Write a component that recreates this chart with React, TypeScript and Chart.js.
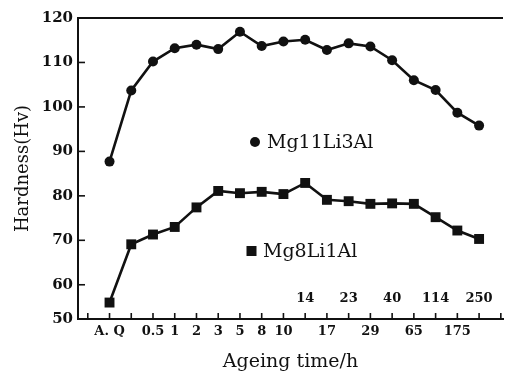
import React, { useEffect, useRef } from "react";
import { Chart, registerables } from "chart.js";

Chart.register(...registerables);

// x categories (ageing time), one tick each; "" = tick without label
const timeLabels = ["", "A. Q", "", "0.5", "1", "2", "3", "5", "8", "10", "14", "17", "23", "29", "40", "65", "114", "175", "250", ""];
// labels that the original prints above the axis line (inside the plot)
const upperLabels = ["14", "23", "40", "114", "250"];

// hardness series (Hv), one value per ageing step, starting at "A. Q"
const mg11Li3Al = [87.7, 103.7, 110.2, 113.2, 114.0, 113.0, 116.9, 113.7, 114.7, 115.1, 112.8, 114.3, 113.6, 110.5, 106.0, 103.8, 98.7, 95.8];
const mg8Li1Al = [56.0, 69.1, 71.3, 73.0, 77.4, 81.1, 80.6, 80.9, 80.4, 82.9, 79.1, 78.8, 78.2, 78.3, 78.2, 75.2, 72.2, 70.3];

// y axis: the original's bottom is compressed, its "50" sits on the axis line
const yAxisMin = 52.3;
const yTickValues = [yAxisMin, 60, 70, 80, 90, 100, 110, 120];
const yTickLabels = ["50", "60", "70", "80", "90", "100", "110", "120"];

const seriesNames = ["Mg11Li3Al", "Mg8Li1Al"];

const FONT = "'DejaVu Serif', 'Liberation Serif', serif";
const INK = "#111";

export default function App() {
  const ref = useRef<HTMLCanvasElement | null>(null);

  useEffect(() => {
    if (!ref.current) return;

    const decor = {
      id: "decor",
      afterDraw(chart: any) {
        const { ctx, chartArea: a, scales } = chart;
        const xs = scales.x;
        const ys = scales.y;
        ctx.save();
        ctx.strokeStyle = INK;
        ctx.fillStyle = INK;
        // top frame line
        ctx.lineWidth = 2;
        ctx.beginPath();
        ctx.moveTo(a.left - 1, a.top);
        ctx.lineTo(a.right, a.top);
        ctx.stroke();
        // inward y ticks
        ctx.lineWidth = 1.6;
        yTickValues.forEach((v) => {
          if (v === yAxisMin || v === 120) return;
          const y = ys.getPixelForValue(v);
          ctx.beginPath();
          ctx.moveTo(a.left, y);
          ctx.lineTo(a.left + 7, y);
          ctx.stroke();
        });
        // inward x ticks
        timeLabels.forEach((_, i) => {
          const x = xs.getPixelForValue(i);
          ctx.beginPath();
          ctx.moveTo(x, a.bottom);
          ctx.lineTo(x, a.bottom - 6);
          ctx.stroke();
        });
        // upper tick labels
        ctx.font = `bold 13px ${FONT}`;
        ctx.textAlign = "center";
        ctx.textBaseline = "middle";
        timeLabels.forEach((l, i) => {
          if (!upperLabels.includes(l)) return;
          ctx.fillText(l, xs.getPixelForValue(i), a.bottom - 20);
        });
        // in-plot legend
        ctx.font = `19px ${FONT}`;
        ctx.textAlign = "left";
        ctx.beginPath();
        ctx.arc(255, 142, 5, 0, Math.PI * 2);
        ctx.fill();
        ctx.fillText(seriesNames[0], 267, 143);
        ctx.fillRect(246.5, 246, 10, 10);
        ctx.fillText(seriesNames[1], 263, 252);
        ctx.restore();
      },
    };

    const chart = new Chart(ref.current, {
      type: "line",
      data: {
        datasets: [
          {
            label: seriesNames[0],
            data: mg11Li3Al.map((v, i) => ({ x: i + 1, y: v })),
            borderColor: INK,
            backgroundColor: INK,
            borderWidth: 2.6,
            pointRadius: 5,
            pointStyle: "circle",
            pointBorderWidth: 0,
            tension: 0,
          },
          {
            label: seriesNames[1],
            data: mg8Li1Al.map((v, i) => ({ x: i + 1, y: v })),
            borderColor: INK,
            backgroundColor: INK,
            borderWidth: 2.6,
            pointRadius: 7,
            pointStyle: "rect",
            pointBorderWidth: 0,
            tension: 0,
          },
        ],
      },
      options: {
        responsive: false,
        animation: false,
        devicePixelRatio: 1,
        layout: { padding: { top: 18, left: 0, right: 0, bottom: 0 } },
        plugins: { legend: { display: false }, tooltip: { enabled: false } },
        scales: {
          x: {
            type: "linear",
            min: -0.45,
            max: 19.1,
            afterBuildTicks: (s: any) => {
              s.ticks = timeLabels.map((_, i) => ({ value: i }));
            },
            afterFit: (s: any) => {
              s.height = 53;
            },
            grid: { display: false, drawTicks: false },
            border: { display: true, color: INK, width: 2 },
            ticks: {
              autoSkip: false,
              maxRotation: 0,
              padding: 5,
              color: INK,
              font: { family: FONT, size: 13, weight: "bold" },
              callback: (v: any) => {
                const l = timeLabels[Math.round(v)] ?? "";
                return upperLabels.includes(l) ? "" : l;
              },
            },
            title: {
              display: true,
              text: "Ageing time/h",
              color: INK,
              font: { family: FONT, size: 19, lineHeight: 1 },
              padding: { top: 0, bottom: 0.5 },
            },
          },
          y: {
            min: yAxisMin,
            max: 120,
            afterBuildTicks: (s: any) => {
              s.ticks = yTickValues.map((v) => ({ value: v }));
            },
            afterFit: (s: any) => {
              s.width = 78;
            },
            grid: { display: false, drawTicks: false },
            border: { display: true, color: INK, width: 2 },
            ticks: {
              padding: 5,
              color: INK,
              font: { family: FONT, size: 15, weight: "bold" },
              callback: (v: any) => {
                const i = yTickValues.indexOf(v);
                return i >= 0 ? yTickLabels[i] : "";
              },
            },
            title: {
              display: true,
              text: "Hardness(Hv)",
              color: INK,
              font: { family: FONT, size: 18, lineHeight: 1 },
              padding: { top: 14, bottom: 0 },
            },
          },
        },
      },
      plugins: [decor],
    });

    return () => chart.destroy();
  }, []);

  return (
    <div style={{ position: "absolute", left: 0, top: 0, width: 510, height: 372, background: "#fff" }}>
      <canvas ref={ref} width={510} height={372} />
    </div>
  );
}
